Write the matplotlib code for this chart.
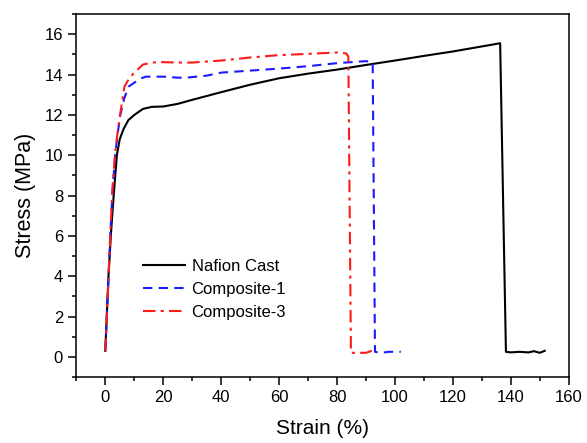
import numpy as np
import matplotlib
matplotlib.use('Agg')
import matplotlib.pyplot as plt
from matplotlib.ticker import MultipleLocator

plt.rcParams['font.family'] = ['Liberation Sans', 'DejaVu Sans']

# Nafion Cast
nafion_x = [0, 1.1, 2.0, 2.9, 4.0, 5.0, 6.3, 8, 10, 13, 16, 20, 25, 30, 40, 50, 60, 70, 80, 90,
            100, 110, 120, 130, 134, 136.3, 138.3, 140, 143, 146, 148, 150, 151.7]
nafion_y = [0.3, 4.0, 6.2, 8.0, 10.0, 10.8, 11.3, 11.75, 12.0, 12.3, 12.4, 12.42, 12.55, 12.75,
            13.13, 13.5, 13.82, 14.05, 14.25, 14.48, 14.7, 14.93, 15.15, 15.4, 15.5,
            15.56, 0.25, 0.22, 0.25, 0.22, 0.28, 0.2, 0.3]

# Composite-1
comp1_x = [0, 1, 1.7, 2.5, 3.4, 4.3, 5.2, 6.5, 8, 10, 12, 14, 20, 25, 28, 35, 40, 50, 60, 70,
           80, 90, 92.3, 93.1, 95, 98, 102]
comp1_y = [0.3, 3.5, 6.0, 8.2, 10.0, 11.1, 12.0, 12.8, 13.4, 13.6, 13.8, 13.9, 13.9,
           13.85, 13.85, 13.95, 14.1, 14.2, 14.3, 14.42, 14.57, 14.67, 14.62, 0.25, 0.2,
           0.25, 0.25]

# Composite-3
comp3_x = [0, 1, 1.7, 2.5, 3.4, 4.3, 5.2, 6.6, 8, 9.7, 11.5, 13, 16, 20, 25, 30, 40, 50, 60,
           70, 80, 83.2, 83.9, 84.8, 87, 90, 92]
comp3_y = [0.3, 3.5, 6.0, 8.4, 10.1, 11.2, 12.1, 13.4, 13.75, 14.05, 14.3, 14.5, 14.6,
           14.62, 14.6, 14.6, 14.7, 14.85, 14.97, 15.03, 15.1, 15.05, 14.9, 0.2, 0.2, 0.2, 0.3]

fig, ax = plt.subplots(figsize=(5.87, 4.43), dpi=100)
fig.subplots_adjust(left=0.13, right=0.969, top=0.968, bottom=0.149)

ax.plot(nafion_x, nafion_y, color='k', lw=1.5, label='Nafion Cast')
ax.plot(comp1_x, comp1_y, color='#1a1aff', lw=1.5, ls=(0, (4.5, 3)), label='Composite-1')
ax.plot(comp3_x, comp3_y, color='#ff1a1a', lw=1.5, ls=(0, (6, 2.5, 1.5, 2.5)), label='Composite-3')

ax.set_xlim(-10, 160)
ax.set_ylim(-1, 17)
ax.xaxis.set_major_locator(MultipleLocator(20))
ax.xaxis.set_minor_locator(MultipleLocator(10))
ax.yaxis.set_major_locator(MultipleLocator(2))
ax.yaxis.set_minor_locator(MultipleLocator(1))
ax.tick_params(which='major', direction='out', length=5.5, width=1.1, labelsize=12, pad=4)
ax.tick_params(which='minor', direction='out', length=3, width=1.1)
for s in ax.spines.values():
    s.set_linewidth(1.1)

ax.set_xlabel('Strain (%)', fontsize=15, labelpad=10)
ax.set_ylabel('Stress (MPa)', fontsize=15.5, labelpad=6)

leg = ax.legend(loc='upper left', bbox_to_anchor=(0.136, 0.325), fontsize=12, frameon=False,
                handlelength=2.5, handletextpad=0.4, labelspacing=0.47, borderaxespad=0,
                borderpad=0)

plt.savefig('out.png', dpi=100)
